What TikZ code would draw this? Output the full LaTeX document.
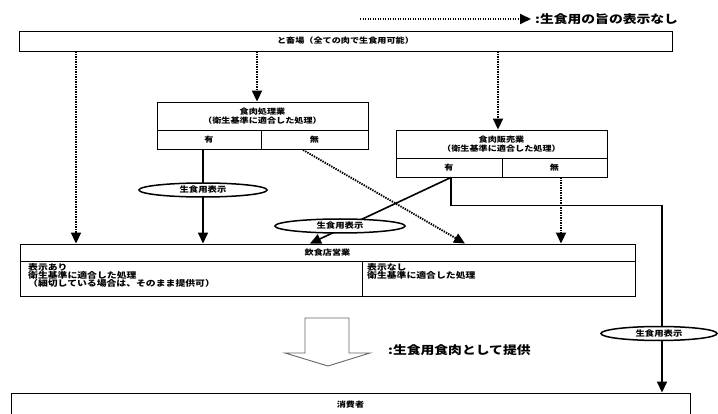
\documentclass[tikz,border=0pt]{standalone}
\usepackage{fontspec}
\newfontfamily\jp[FakeStretch=1.2]{Noto Sans CJK JP}
\usetikzlibrary{arrows.meta,shapes.geometric}
\begin{document}
\begin{tikzpicture}[x=1pt,y=-1pt,
  box/.style={draw, line width=0.9pt, rectangle, inner sep=0pt, align=center,
    font=\jp\bfseries\fontsize{7.6}{9.5}\selectfont},
  txt/.style={inner sep=0pt, font=\jp\bfseries\fontsize{8.2}{8.4}\selectfont},
  bigtxt/.style={inner sep=0pt, font=\jp\bfseries\fontsize{11.5}{13}\selectfont},
  oval/.style={ellipse, draw, fill=white, line width=1.5pt, inner sep=0pt,
    minimum height=14pt, font=\jp\bfseries\fontsize{7.8}{8}\selectfont},
  solidarr/.style={draw, line width=1.6pt, -{Triangle[width=10pt,length=11pt]}},
  dotarr/.style={draw, line width=1.9pt, dash pattern=on 1.4pt off 1.1pt,
    -{Triangle[width=10pt,length=11pt]}}]
\useasboundingbox (0,0) rectangle (718,414);
\fill[white] (0,0) rectangle (718,414);

% legend
\coordinate (lgs) at (360,19);
\node[bigtxt, anchor=west] (lg1) at (535,19) {:生食用の旨の表示なし};
\draw[dotarr] (lgs) -- ([xshift=-4pt]lg1.west);

% boxes
\node[box, minimum width=653pt, minimum height=20pt] (slaughter) at (345.5,41) {と畜場（全ての肉で生食用可能）};

\node[box, minimum width=211pt, minimum height=28pt] (proc) at (262.5,116) {食肉処理業\\（衛生基準に適合した処理）};
\node[box, minimum width=104pt, minimum height=19.5pt] (procY) at (209,139.75) {有};
\node[box, minimum width=107pt, minimum height=19.5pt] (procN) at (314.5,139.75) {無};

\node[box, minimum width=211pt, minimum height=28pt] (sale) at (501.5,144) {食肉販売業\\（衛生基準に適合した処理）};
\node[box, minimum width=106pt, minimum height=19pt] (saleY) at (449,167.5) {有};
\node[box, minimum width=105pt, minimum height=19pt] (saleN) at (554.5,167.5) {無};

\node[box, minimum width=615pt, minimum height=17pt] (rest) at (327.5,252.5) {飲食店営業};
\node[box, minimum width=342pt, minimum height=35pt] (restL) at (191,278.5) {};
\node[box, minimum width=273pt, minimum height=35pt] (restR) at (498.5,278.5) {};
\node[txt, anchor=north west, align=left] (restLt) at (28,262.8) {表示あり\\衛生基準に適合した処理\\（細切している場合は、そのまま提供可）};
\node[txt, anchor=north west, align=left] (restRt) at (367,262.8) {表示なし\\衛生基準に適合した処理};

\node[box, minimum width=679pt, minimum height=24pt] (cons) at (350.5,405) {消費者};

% x positions of connectors
\coordinate (xa) at (76,0);
\coordinate (xb) at (257,0);
\coordinate (xc) at (498,0);
\coordinate (xd) at (203,0);
\coordinate (xe) at (303,0);
\coordinate (xf) at (465,0);
\coordinate (xg) at (561,0);
\coordinate (xh) at (451,0);
\coordinate (xi) at (310,0);
\coordinate (turn) at (662,205.7);

% connectors
\draw[dotarr] (slaughter.south -| xa) -- (rest.north -| xa);
\draw[dotarr] (slaughter.south -| xb) -- (proc.north -| xb);
\draw[dotarr] (slaughter.south -| xc) -- (sale.north -| xc);
\draw[solidarr] (procY.south -| xd) -- (rest.north -| xd);
\draw[dotarr] (procN.south -| xe) -- (rest.north -| xf);
\draw[dotarr] (saleN.south -| xg) -- (rest.north -| xg);
\draw[solidarr] (saleY.south -| xh) -- (rest.north -| xi);
\draw[solidarr] (saleY.south -| xh) |- (turn) -- (cons.north -| turn);

% labels on connectors
\node[oval, minimum width=128pt] (e1) at (203,190) {生食用表示};
\node[oval, minimum width=130pt] (e2) at (340,226) {生食用表示};
\node[oval, minimum width=116pt] (e3) at (659,333.5) {生食用表示};

% hollow arrow legend
\draw[line width=0.9pt, draw=black!60, fill=white]
  (305,318) -- (349,318) -- (349,353) -- (370,353) -- (328,366) -- (285,353) -- (305,353) -- cycle;
\node[bigtxt, anchor=west] (lg2) at (388,350) {:生食用食肉として提供};
\end{tikzpicture}
\end{document}
